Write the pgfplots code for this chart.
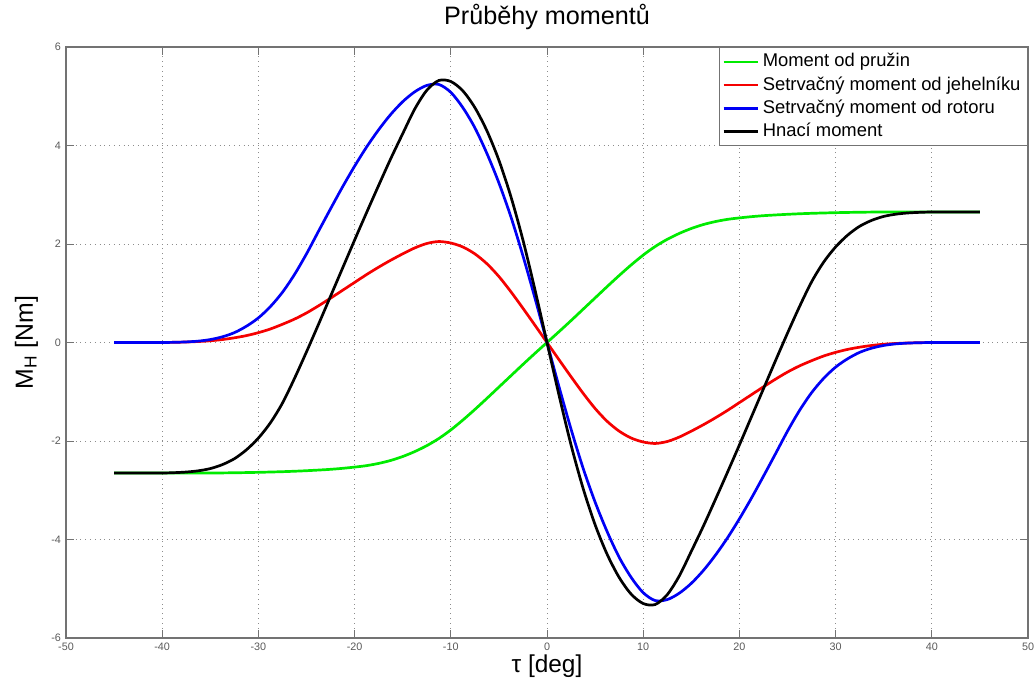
\documentclass[border=0pt]{standalone}
\usepackage{fontspec}
\setmainfont{Liberation Sans}
\usepackage{pgfplots}
\usepackage{pgfplotstable}
\pgfplotsset{compat=1.18}
\pgfplotstableread{
x G R B K
-45 -2.65 0 0 -2.65
-43.75 -2.65 0 0 -2.65
-42.5 -2.65 0 0 -2.65
-41.25 -2.65 0 0 -2.65
-40 -2.65 0 0 -2.65
-38.75 -2.65 0.004 0.004 -2.643
-37.5 -2.65 0.01 0.012 -2.63
-36.25 -2.65 0.02 0.028 -2.605
-35 -2.65 0.035 0.06 -2.56
-33.75 -2.648 0.06 0.115 -2.48
-32.5 -2.645 0.095 0.20 -2.36
-31.25 -2.641 0.14 0.33 -2.18
-30 -2.636 0.20 0.50 -1.94
-28.75 -2.63 0.275 0.73 -1.63
-27.5 -2.623 0.37 1.02 -1.23
-26.25 -2.614 0.475 1.38 -0.73
-25 -2.603 0.60 1.80 -0.19
-23.75 -2.59 0.745 2.26 0.37
-22.5 -2.575 0.90 2.715 0.94
-21.25 -2.555 1.06 3.16 1.51
-20 -2.53 1.22 3.58 2.08
-18.75 -2.50 1.38 3.97 2.64
-17.5 -2.455 1.53 4.32 3.19
-16.25 -2.395 1.67 4.63 3.73
-15 -2.315 1.80 4.89 4.24
-13.75 -2.215 1.92 5.09 4.74
-12.5 -2.095 2.01 5.22 5.12
-11.25 -1.95 2.05 5.24 5.32
-10 -1.775 2.02 5.08 5.30
-8.75 -1.575 1.94 4.77 5.11
-7.5 -1.36 1.80 4.36 4.77
-6.25 -1.135 1.60 3.84 4.30
-5 -0.905 1.34 3.24 3.70
-3.75 -0.675 1.03 2.55 2.96
-2.5 -0.445 0.695 1.76 2.08
-1.25 -0.22 0.35 0.90 1.07
0 0 0 0 0
1.25 0.22 -0.35 -0.90 -1.07
2.5 0.445 -0.695 -1.76 -2.08
3.75 0.675 -1.03 -2.55 -2.96
5 0.905 -1.34 -3.24 -3.70
6.25 1.135 -1.60 -3.84 -4.30
7.5 1.36 -1.80 -4.36 -4.77
8.75 1.575 -1.94 -4.77 -5.11
10 1.775 -2.02 -5.08 -5.30
11.25 1.95 -2.05 -5.24 -5.32
12.5 2.095 -2.01 -5.22 -5.12
13.75 2.215 -1.92 -5.09 -4.74
15 2.315 -1.80 -4.89 -4.24
16.25 2.395 -1.67 -4.63 -3.73
17.5 2.455 -1.53 -4.32 -3.19
18.75 2.50 -1.38 -3.97 -2.64
20 2.53 -1.22 -3.58 -2.08
21.25 2.555 -1.06 -3.16 -1.51
22.5 2.575 -0.90 -2.715 -0.94
23.75 2.59 -0.745 -2.26 -0.37
25 2.603 -0.60 -1.80 0.19
26.25 2.614 -0.475 -1.38 0.73
27.5 2.623 -0.37 -1.02 1.23
28.75 2.63 -0.275 -0.73 1.63
30 2.636 -0.20 -0.50 1.94
31.25 2.641 -0.14 -0.33 2.18
32.5 2.645 -0.095 -0.20 2.36
33.75 2.648 -0.06 -0.115 2.48
35 2.65 -0.035 -0.06 2.56
36.25 2.65 -0.02 -0.028 2.605
37.5 2.65 -0.01 -0.012 2.63
38.75 2.65 -0.004 -0.004 2.643
40 2.65 0 0 2.65
41.25 2.65 0 0 2.65
42.5 2.65 0 0 2.65
43.75 2.65 0 0 2.65
45 2.65 0 0 2.65
}\data
\definecolor{mgreen}{RGB}{0,235,0}
\definecolor{mred}{RGB}{245,0,0}
\definecolor{mblue}{RGB}{0,0,245}
\begin{document}
\begin{tikzpicture}
\begin{axis}[
  name=ax,
  scale only axis,
  width=481pt, height=295.5pt,
  xmin=-50, xmax=50, ymin=-6, ymax=6,
  xtick={-50,-40,...,50}, ytick={-6,-4,...,6},
  tick align=inside, tick pos=both,
  major tick length=4pt,
  axis line style={black!55, line width=0.6pt},
  tick style={black!55, line width=0.5pt},
  grid=major,
  grid style={dotted, black!45, line width=0.5pt},
  /pgf/number format/assume math mode=true,
  ticklabel style={font=\fontsize{5.4}{6}\selectfont, text=black!65},
  xticklabel style={yshift=1pt},
  yticklabel style={xshift=1pt},
  title={Průběhy momentů},
  title style={at={(axis description cs:0.5,1)}, anchor=base, yshift=5.5pt, font=\fontsize{12.6}{14}\selectfont},
  xlabel={τ [deg]},
  xlabel style={at={([yshift=-17pt]axis description cs:0.5,0)}, anchor=base, font=\fontsize{12.2}{14}\selectfont},
  ylabel={M\textsubscript{H} [Nm]},
  ylabel style={at={([xshift=-16.5pt]axis description cs:0,0.5)}, anchor=base, font=\fontsize{12.4}{14}\selectfont},
  legend style={at={(1,1)}, anchor=north east, draw=black!55, line width=0.5pt,
    font=\fontsize{9.2}{10.5}\selectfont, inner xsep=1.5pt, inner ysep=1pt,
    row sep=-0.6pt, fill=white},
  legend cell align=left,
  legend image code/.code={\draw[#1, line width=1.2pt] (0pt,0pt) -- (17pt,0pt);},
  every axis plot/.append style={line width=1.35pt, smooth},
]
\addplot[mgreen] table[x=x, y=G] {\data};
\addlegendentry{Moment od pružin}
\addplot[mred] table[x=x, y=R] {\data};
\addlegendentry{Setrvačný moment od jehelníku}
\addplot[mblue] table[x=x, y=B] {\data};
\addlegendentry{Setrvačný moment od rotoru}
\addplot[black] table[x=x, y=K] {\data};
\addlegendentry{Hnací moment}
\end{axis}
\pgfresetboundingbox
\useasboundingbox (ax.south west) ++(-33pt,-21pt) rectangle ([shift={(3pt,23.5pt)}]ax.north east);
\end{tikzpicture}
\end{document}
